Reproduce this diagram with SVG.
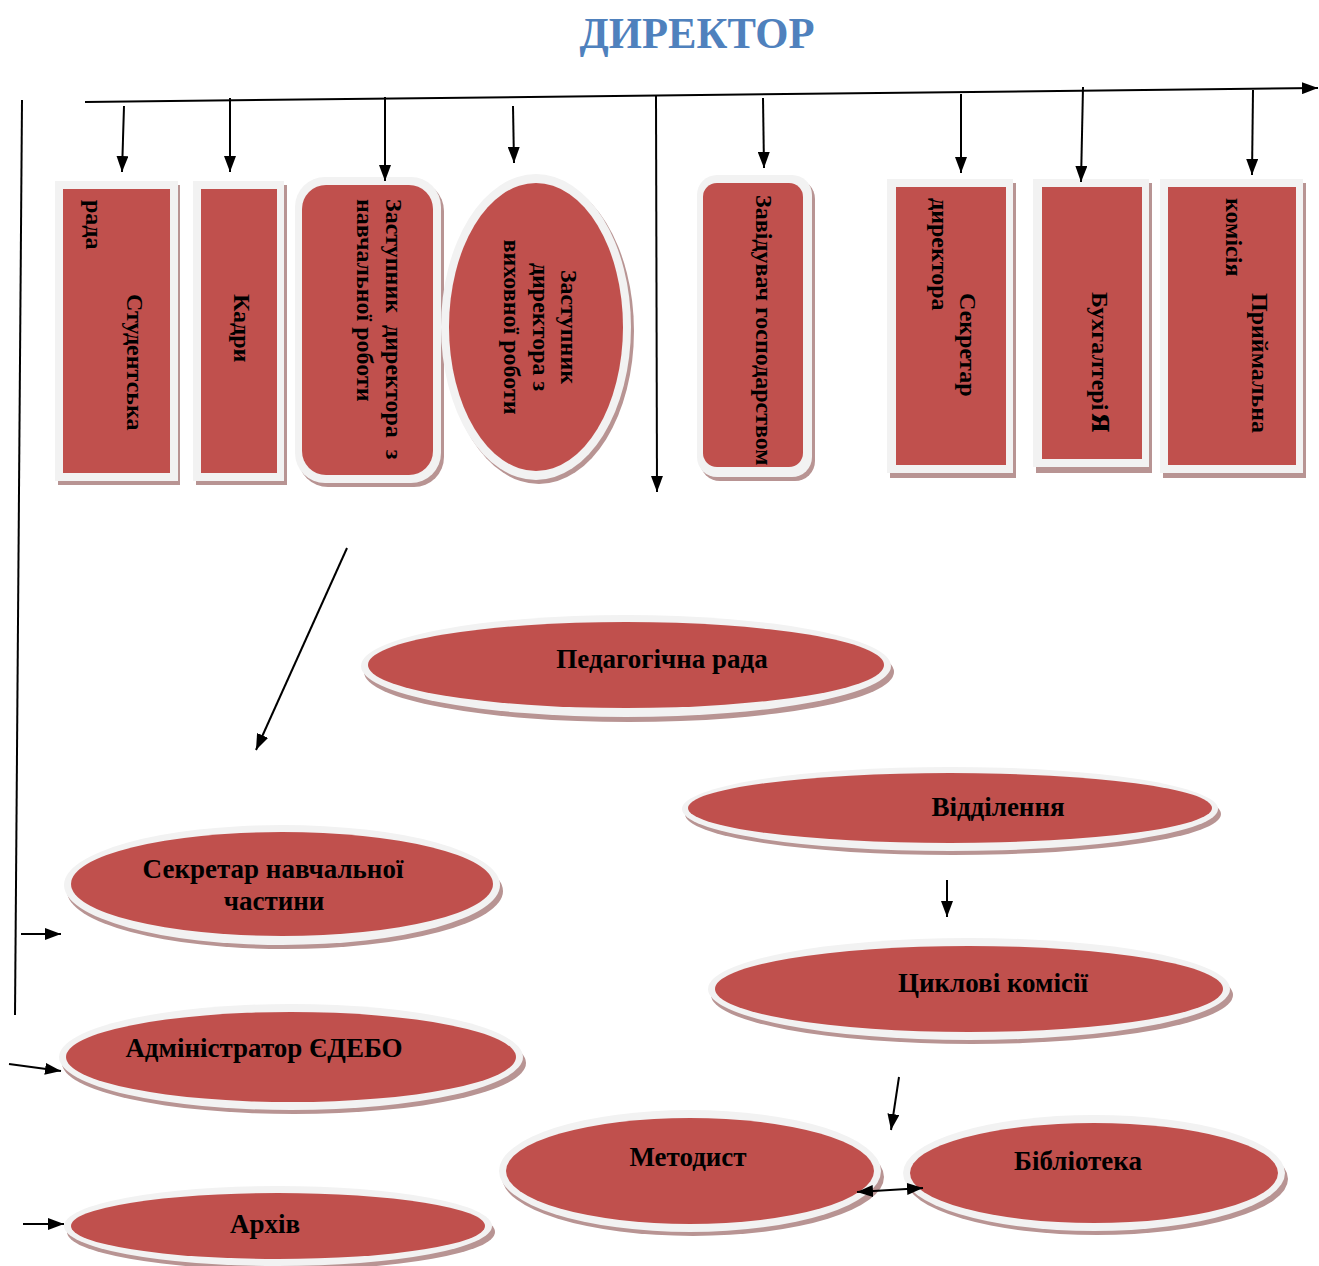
<svg xmlns="http://www.w3.org/2000/svg" width="1319" height="1266" viewBox="0 0 1319 1266">
<defs>
<style>
.sh{fill:#b89493}
.fr{fill:#f2f2f2}
.rd{fill:#c0504d}
.t{font-family:"Liberation Serif","Times New Roman",serif;font-weight:bold;font-size:27px;fill:#000}
.tv{font-family:"Liberation Serif","Times New Roman",serif;font-weight:bold;font-size:24px;fill:#000}
.c{text-anchor:middle}
.ln{stroke:#000;stroke-width:2;fill:none}
.ar{stroke:#000;stroke-width:2;fill:none;marker-end:url(#ah)}
</style>
<marker id="ah" viewBox="0 0 16 12" refX="16" refY="6" markerWidth="16" markerHeight="12" orient="auto-start-reverse" markerUnits="userSpaceOnUse"><path d="M0,0 L16,6 L0,12 z" fill="#000"/></marker>
</defs>
<rect width="1319" height="1266" fill="#fff"/>
<text x="697" y="48" text-anchor="middle" font-family="Liberation Serif, Times New Roman, serif" font-weight="bold" font-size="44" fill="#4f81bd" textLength="235" lengthAdjust="spacingAndGlyphs">ДИРЕКТОР</text>

<g id="n-studrada">
<rect class="sh" x="58" y="185" width="122" height="300"/>
<rect class="fr" x="55" y="181" width="123" height="300"/>
<rect class="rd" x="63" y="189" width="107" height="284"/>
<text class="tv" transform="translate(127,294) rotate(90)">Студентська</text>
<text class="tv" transform="translate(86,200) rotate(90)">рада</text>
</g>

<g id="n-kadry">
<rect class="sh" x="196" y="185" width="91" height="300"/>
<rect class="fr" x="193" y="181" width="91" height="300"/>
<rect class="rd" x="201" y="189" width="76" height="284"/>
<text class="tv" transform="translate(234,294) rotate(90)">Кадри</text>
</g>

<g id="n-zast-navch">
<rect class="sh" x="298" y="181" width="146" height="306" rx="30"/>
<rect class="fr" x="295" y="177" width="146" height="306" rx="30"/>
<rect class="rd" x="302" y="185" width="131" height="290" rx="24"/>
<text class="tv" xml:space="preserve" transform="translate(386,199) rotate(90)">Заступник  директора  з</text>
<text class="tv" transform="translate(357,199) rotate(90)">навчальної роботи</text>
</g>

<g id="n-zast-vykh">
<ellipse class="sh" cx="539" cy="331" rx="95" ry="153"/>
<ellipse class="fr" cx="536" cy="327" rx="95" ry="153"/>
<ellipse class="rd" cx="536" cy="327" rx="87" ry="144"/>
<text class="tv c" transform="translate(561,327) rotate(90)">Заступник</text>
<text class="tv c" transform="translate(533,327) rotate(90)">директора з</text>
<text class="tv c" transform="translate(504,327) rotate(90)">виховної роботи</text>
</g>

<g id="n-zavgosp">
<rect class="sh" x="700" y="179" width="115" height="302" rx="20"/>
<rect class="fr" x="697" y="175" width="115" height="302" rx="20"/>
<rect class="rd" x="703" y="183" width="100" height="284" rx="14"/>
<text class="tv" transform="translate(756,195) rotate(90)">Завідувач господарством</text>
</g>

<g id="n-sekr-dyr">
<rect class="sh" x="890" y="183" width="126" height="295"/>
<rect class="fr" x="887" y="179" width="126" height="294"/>
<rect class="rd" x="896" y="187" width="110" height="278"/>
<text class="tv" transform="translate(960,293) rotate(90)">Секретар</text>
<text class="tv" transform="translate(932,198) rotate(90)">директора</text>
</g>

<g id="n-buh">
<rect class="sh" x="1036" y="183" width="116" height="290"/>
<rect class="fr" x="1033" y="179" width="116" height="288"/>
<rect class="rd" x="1042" y="187" width="100" height="272"/>
<text class="tv" transform="translate(1092,292) rotate(90)">Бухгалтері<tspan font-size="36" dx="3">я</tspan></text>
</g>

<g id="n-pryim">
<rect class="sh" x="1163" y="183" width="143" height="295"/>
<rect class="fr" x="1160" y="179" width="143" height="294"/>
<rect class="rd" x="1168" y="187" width="128" height="278"/>
<text class="tv" transform="translate(1252,293) rotate(90)">Приймальна</text>
<text class="tv" transform="translate(1226,198) rotate(90)">комісія</text>
</g>

<g id="n-pedrada">
<ellipse class="sh" cx="629" cy="672" rx="265" ry="50"/>
<ellipse class="fr" cx="626" cy="666" rx="265" ry="51"/>
<ellipse class="rd" cx="626" cy="665" rx="258" ry="43"/>
<text class="t c" x="662" y="668">Педагогічна рада</text>
</g>

<g id="n-viddil">
<ellipse class="sh" cx="953" cy="814" rx="268" ry="41"/>
<ellipse class="fr" cx="950" cy="809" rx="268" ry="42"/>
<ellipse class="rd" cx="950" cy="808" rx="262" ry="35"/>
<text class="t c" x="998" y="816">Відділення</text>
</g>

<g id="n-sekr-navch">
<ellipse class="sh" cx="285" cy="891" rx="218" ry="58"/>
<ellipse class="fr" cx="282" cy="885" rx="218" ry="60"/>
<ellipse class="rd" cx="282" cy="884" rx="211" ry="52"/>
<text class="t c" x="273" y="878">Секретар навчальної</text>
<text class="t c" x="274" y="910">частини</text>
</g>

<g id="n-cykl">
<ellipse class="sh" cx="972" cy="995" rx="261" ry="49"/>
<ellipse class="fr" cx="969" cy="989" rx="261" ry="51"/>
<ellipse class="rd" cx="969" cy="989" rx="254" ry="43"/>
<text class="t c" x="993" y="992">Циклові комісії</text>
</g>

<g id="n-admin">
<ellipse class="sh" cx="294" cy="1063" rx="232" ry="51"/>
<ellipse class="fr" cx="291" cy="1057" rx="232" ry="53"/>
<ellipse class="rd" cx="291" cy="1057" rx="225" ry="45"/>
<text class="t c" x="264" y="1057">Адміністратор ЄДЕБО</text>
</g>

<g id="n-metod">
<ellipse class="sh" cx="693" cy="1177" rx="191" ry="59"/>
<ellipse class="fr" cx="690" cy="1171" rx="191" ry="61"/>
<ellipse class="rd" cx="690" cy="1171" rx="184" ry="53"/>
<text class="t c" x="688" y="1166">Методист</text>
</g>

<g id="n-bibl">
<ellipse class="sh" cx="1097" cy="1179" rx="191" ry="56"/>
<ellipse class="fr" cx="1094" cy="1173" rx="191" ry="58"/>
<ellipse class="rd" cx="1094" cy="1173" rx="184" ry="50"/>
<text class="t c" x="1078" y="1170">Бібліотека</text>
</g>

<g id="n-arkhiv">
<ellipse class="sh" cx="281" cy="1232" rx="214" ry="38"/>
<ellipse class="fr" cx="278" cy="1226" rx="214" ry="40"/>
<ellipse class="rd" cx="278" cy="1226" rx="207" ry="33"/>
<text class="t c" x="265" y="1233">Архів</text>
</g>

<g id="connectors">
<line class="ln" x1="85" y1="102" x2="1318" y2="88" stroke-width="2.5" marker-end="url(#ah)"/>
<line class="ln" x1="22" y1="100" x2="15" y2="1015"/>
<line class="ar" x1="124" y1="106" x2="122" y2="172"/>
<line class="ar" x1="230" y1="98" x2="230" y2="172"/>
<line class="ar" x1="385" y1="97" x2="385" y2="181"/>
<line class="ar" x1="513" y1="106" x2="514" y2="163"/>
<line class="ar" x1="656" y1="96" x2="657" y2="492"/>
<line class="ar" x1="763" y1="98" x2="764" y2="168"/>
<line class="ar" x1="961" y1="94" x2="961" y2="173"/>
<line class="ar" x1="1083" y1="87" x2="1081" y2="182"/>
<line class="ar" x1="1253" y1="90" x2="1252" y2="175"/>
<line class="ar" x1="347" y1="548" x2="256" y2="750"/>
<line class="ar" x1="21" y1="934" x2="61" y2="934"/>
<line class="ar" x1="9" y1="1064" x2="61" y2="1071"/>
<line class="ar" x1="23" y1="1224" x2="64" y2="1224"/>
<line class="ar" x1="947" y1="880" x2="947" y2="917"/>
<line class="ar" x1="899" y1="1077" x2="891" y2="1130"/>
<line class="ar" x1="857" y1="1192" x2="923" y2="1188" marker-start="url(#ah)"/>
</g>
</svg>
